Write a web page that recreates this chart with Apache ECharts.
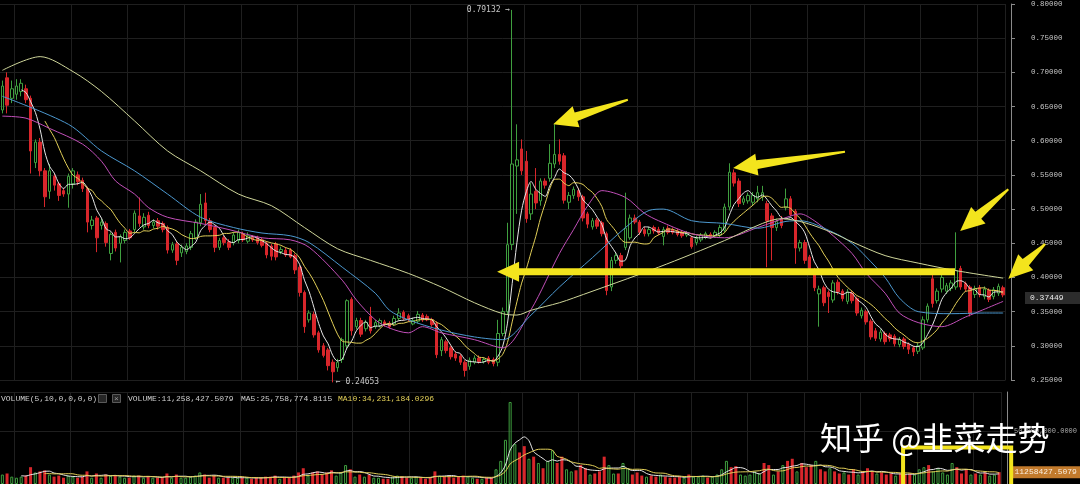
<!DOCTYPE html>
<html>
<head>
<meta charset="utf-8">
<script src="https://cdn.jsdelivr.net/npm/echarts@6/dist/echarts.min.js"></script>
<style>
  html, body { margin: 0; padding: 0; background: #000; }
  #chart { width: 1080px; height: 484px; }
</style>
</head>
<body>
<div id="chart"></div>
<script>
// K-line rows: [open, close, low, high]
const candles = [
  [.645,.680,.640,.688],[.692,.652,.640,.700],[.662,.676,.655,.688],[.668,.680,.660,.690],[.672,.684,.665,.690],
  [.676,.660,.655,.682],[.662,.585,.552,.666],[.568,.598,.560,.602],[.598,.556,.548,.604],[.556,.518,.503,.560],
  [.526,.556,.515,.566],[.548,.535,.527,.552],[.537,.520,.512,.540],[.527,.522,.518,.531],[.522,.548,.502,.552],
  [.537,.556,.530,.560],[.550,.540,.535,.555],[.542,.530,.525,.546],[.530,.481,.466,.533],[.476,.484,.470,.490],
  [.487,.458,.437,.490],[.476,.481,.470,.486],[.479,.451,.445,.482],[.435,.463,.425,.466],[.466,.443,.438,.470],
  [.450,.460,.422,.463],[.454,.466,.450,.470],[.468,.458,.455,.471],[.470,.494,.466,.498],[.490,.479,.474,.517],
  [.474,.488,.470,.494],[.491,.476,.472,.496],[.476,.481,.472,.485],[.483,.475,.470,.487],[.479,.470,.466,.482],
  [.473,.440,.435,.476],[.440,.448,.436,.452],[.449,.425,.418,.452],[.436,.444,.430,.448],[.438,.446,.434,.450],
  [.444,.464,.440,.468],[.458,.481,.455,.485],[.480,.507,.475,.522],[.509,.483,.478,.524],[.483,.470,.466,.487],
  [.473,.444,.437,.476],[.444,.454,.440,.458],[.458,.451,.447,.461],[.452,.444,.440,.456],[.451,.462,.447,.466],
  [.454,.466,.450,.470],[.463,.455,.452,.467],[.453,.461,.450,.466],[.459,.455,.452,.462],[.458,.451,.448,.461],
  [.455,.447,.444,.458],[.450,.433,.428,.453],[.446,.431,.425,.449],[.449,.430,.425,.452],[.438,.441,.434,.445],
  [.440,.433,.430,.444],[.440,.430,.428,.443],[.432,.411,.405,.435],[.415,.378,.372,.418],[.378,.328,.319,.381],
  [.338,.348,.334,.352],[.346,.316,.312,.350],[.319,.294,.290,.322],[.300,.286,.283,.304],[.294,.271,.264,.297],
  [.276,.262,.24653,.280],[.268,.276,.262,.281],[.280,.309,.275,.312],[.300,.366,.296,.368],[.368,.322,.315,.371],
  [.328,.337,.324,.341],[.337,.317,.313,.341],[.325,.334,.321,.338],[.343,.322,.318,.357],[.328,.334,.325,.338],
  [.330,.337,.327,.340],[.335,.331,.328,.338],[.333,.328,.325,.336],[.332,.340,.329,.344],[.340,.348,.337,.355],
  [.349,.340,.337,.352],[.344,.338,.335,.347],[.332,.337,.330,.341],[.336,.346,.333,.351],[.345,.338,.335,.348],
  [.343,.338,.336,.346],[.338,.331,.328,.341],[.333,.287,.282,.336],[.293,.309,.285,.313],[.306,.293,.289,.309],
  [.297,.284,.280,.300],[.288,.282,.278,.291],[.285,.276,.272,.288],[.276,.264,.255,.279],[.270,.279,.265,.283],
  [.276,.282,.273,.286],[.282,.277,.274,.286],[.277,.280,.274,.283],[.282,.276,.273,.285],[.280,.274,.270,.283],
  [.276,.318,.270,.338],[.318,.350,.314,.356],[.350,.448,.345,.480],[.448,.566,.440,.79132],[.563,.572,.493,.624],
  [.588,.556,.550,.602],[.570,.486,.480,.585],[.493,.522,.484,.538],[.526,.509,.500,.560],[.512,.541,.505,.545],
  [.541,.535,.530,.545],[.545,.567,.540,.595],[.566,.580,.560,.624],[.580,.570,.565,.602],[.578,.513,.508,.582],
  [.510,.520,.500,.525],[.520,.529,.515,.533],[.527,.518,.512,.531],[.518,.487,.482,.521],[.493,.478,.472,.496],
  [.474,.483,.470,.487],[.484,.475,.471,.487],[.480,.464,.460,.483],[.464,.381,.374,.467],[.386,.425,.380,.430],
  [.425,.432,.420,.436],[.432,.417,.413,.436],[.444,.472,.440,.524],[.458,.487,.455,.492],[.487,.481,.478,.492],
  [.481,.466,.462,.484],[.470,.464,.460,.474],[.464,.470,.460,.474],[.473,.468,.464,.476],[.470,.465,.462,.474],
  [.460,.470,.447,.474],[.472,.466,.463,.476],[.470,.466,.463,.473],[.468,.463,.460,.471],[.466,.461,.458,.469],
  [.462,.465,.459,.468],[.458,.445,.442,.461],[.451,.457,.447,.461],[.455,.462,.452,.465],[.459,.464,.456,.467],
  [.463,.460,.457,.466],[.461,.466,.458,.469],[.462,.473,.459,.477],[.469,.503,.466,.508],[.503,.554,.498,.567],
  [.553,.538,.533,.558],[.541,.508,.503,.545],[.510,.515,.506,.519],[.512,.520,.508,.524],[.510,.520,.505,.525],
  [.515,.524,.510,.534],[.518,.524,.512,.534],[.508,.483,.415,.512],[.490,.473,.425,.494],[.473,.482,.468,.486],
  [.485,.476,.472,.490],[.502,.515,.498,.530],[.515,.492,.489,.519],[.497,.443,.420,.500],[.443,.451,.438,.455],
  [.451,.425,.420,.455],[.430,.411,.406,.433],[.411,.385,.380,.414],[.376,.383,.328,.388],[.385,.363,.358,.388],
  [.378,.372,.348,.381],[.367,.392,.363,.396],[.393,.379,.375,.397],[.380,.369,.365,.383],[.365,.379,.361,.383],
  [.377,.366,.362,.380],[.369,.348,.344,.372],[.344,.352,.340,.356],[.350,.335,.331,.353],[.336,.313,.309,.339],
  [.322,.311,.307,.326],[.310,.320,.306,.324],[.318,.306,.302,.321],[.316,.310,.306,.319],[.314,.303,.299,.317],
  [.302,.309,.298,.313],[.310,.299,.295,.313],[.302,.295,.288,.305],[.297,.291,.285,.300],[.292,.300,.288,.304],
  [.297,.338,.294,.343],[.338,.358,.334,.362],[.398,.362,.356,.404],[.366,.380,.362,.384],[.383,.400,.378,.405],
  [.380,.388,.376,.392],[.384,.392,.380,.396],[.386,.410,.382,.466],[.413,.386,.382,.417],[.391,.383,.379,.394],
  [.386,.347,.343,.389],[.375,.384,.370,.388],[.385,.375,.371,.389],[.372,.383,.368,.387],[.381,.368,.364,.384],
  [.372,.382,.368,.386],[.377,.387,.373,.391],[.385,.37449,.371,.388]
];

// traded volume per candle
const volumes = [
  9e6,10e6,7e6,6e6,7e6,8e6,16e6,11e6,12e6,13e6,
  9e6,7e6,8e6,6e6,8e6,7e6,6e6,7e6,12e6,6e6,
  10e6,6e6,9e6,8e6,8e6,7e6,6e6,6e6,8e6,8e6,
  6e6,7e6,6e6,6e6,6e6,10e6,6e6,9e6,6e6,6e6,
  7e6,8e6,11e6,9e6,6e6,8e6,6e6,6e6,6e6,6e6,
  6e6,6e6,6e6,5e6,6e6,6e6,7e6,7e6,8e6,5e6,
  6e6,6e6,8e6,11e6,15e6,8e6,11e6,12e6,9e6,11e6,
  13e6,8e6,11e6,18e6,14e6,7e6,9e6,7e6,9e6,6e6,
  6e6,5e6,5e6,7e6,8e6,7e6,6e6,6e6,7e6,6e6,
  5e6,6e6,12e6,8e6,7e6,7e6,6e6,7e6,8e6,7e6,
  6e6,5e6,5e6,6e6,6e6,14e6,22e6,42e6,78e6,38e6,
  30e6,36e6,24e6,26e6,20e6,15e6,22e6,32e6,20e6,26e6,
  14e6,12e6,13e6,18e6,15e6,9e6,10e6,12e6,26e6,18e6,
  10e6,10e6,20e6,15e6,9e6,11e6,8e6,7e6,8e6,7e6,
  9e6,7e6,6e6,6e6,7e6,6e6,9e6,7e6,7e6,8e6,
  6e6,7e6,9e6,14e6,22e6,16e6,17e6,9e6,8e6,9e6,
  12e6,10e6,20e6,18e6,9e6,12e6,18e6,22e6,24e6,12e6,
  20e6,16e6,18e6,22e6,14e6,12e6,15e6,12e6,10e6,11e6,
  9e6,14e6,9e6,12e6,15e6,12e6,10e6,11e6,9e6,10e6,
  8e6,10e6,9e6,10e6,9e6,14e6,16e6,18e6,12e6,15e6,
  11e6,9e6,20e6,16e6,10e6,14e6,9e6,10e6,9e6,11e6,
  8e6,9e6,11258427.5079
];

// longer moving averages, read as [candle index, value] points
const ma20Points = [[0,.636],[5,.633],[10,.618],[17,.595],[21,.570],[24,.541],[28,.522],[31,.502],[35,.488],[42,.479],
  [48,.470],[55,.458],[61,.455],[65,.444],[72,.396],[75,.367],[79,.338],[82,.326],[86,.319],[89,.328],[93,.319],
  [100,.309],[106,.297],[112,.353],[118,.435],[121,.470],[124,.505],[127,.527],[132,.517],[136,.494],[139,.483],
  [146,.464],[153,.458],[160,.473],[167,.490],[169,.493],[172,.483],[176,.461],[180,.435],[183,.406],[187,.377],
  [190,.348],[194,.334],[199,.328],[204,.342],[212,.365]];
const ma30Points = [[0,.665],[14,.624],[21,.585],[28,.556],[35,.522],[42,.488],[49,.473],[55,.465],[61,.461],[65,.451],
  [72,.415],[79,.377],[82,.352],[86,.338],[93,.323],[100,.313],[106,.309],[112,.345],[118,.386],[125,.429],[132,.473],
  [137,.498],[140,.500],[146,.483],[153,.479],[160,.472],[166,.482],[169,.483],[176,.466],[180,.450],[183,.430],
  [187,.400],[190,.370],[194,.350],[201,.347],[208,.348],[212,.348]];
const ma60Points = [[0,.703],[8,.723],[15,.701],[21,.672],[28,.629],[35,.585],[42,.556],[50,.522],[57,.505],[64,.473],
  [71,.442],[78,.425],[86,.406],[93,.386],[100,.363],[106,.347],[109,.345],[112,.352],[118,.363],[121,.370],[139,.415],
  [153,.454],[161,.479],[165,.486],[170,.480],[176,.465],[180,.452],[187,.432],[194,.421],[202,.410],[212,.399]];

// price axis range and step
const priceMin = 0.25, priceMax = 0.80, priceStep = 0.05;
// volume axis range and step
const volumeMax = 87.5e6, volumeStep = 50e6;

// header values of the volume pane
const volumeHeader = 'VOLUME(5,10,0,0,0,0)';
const volMa5Last = 25758774.8115;
const volMa10Last = 34231184.0296;

// annotation arrows: [tail index, tail price], [tip index, tip price]
const arrowNotes = [
  { tail: [201.8, 0.4085], tip: [104.8, 0.4085], flat: true },
  { tail: [132.5, 0.660], tip: [116.7, 0.624] },
  { tail: [178.5, 0.584], tip: [154.8, 0.560] },
  { tail: [213.1, 0.529], tip: [202.9, 0.468] },
  { tail: [220.9, 0.449], tip: [213.1, 0.398] }
];
// highlighted box in the volume pane: index span and volume span
const volumeBox = { from: 190.8, to: 213.7, top: 34.8e6, bottom: -12e6 };

const watermark = '知乎 @韭菜走势';

const MONO = '"Liberation Mono", "DejaVu Sans Mono", monospace';
const UP = '#3f9f3f', DOWN = '#d8262b', GRID = '#1f1f1f', YELLOW = '#f3e41d';

function movingAverage(values, n) {
  return values.map((_, i) => {
    if (i < n - 1) return '-';
    let s = 0;
    for (let k = i - n + 1; k <= i; k++) s += values[k];
    return s / n;
  });
}
function withThousands(v) {
  const parts = v.toFixed(4).split('.');
  return parts[0].replace(/\B(?=(\d{3})+(?!\d))/g, ',') + '.' + parts[1];
}

const categories = candles.map((_, i) => String(i + 1));
const closes = candles.map(c => c[1]);
const ma5 = movingAverage(closes, 5);
const ma10 = movingAverage(closes, 10);
const volMa5 = movingAverage(volumes, 5);
const volMa10 = movingAverage(volumes, 10);
const lastClose = closes[closes.length - 1];
const lastVolume = volumes[volumes.length - 1];

let hiIdx = 0, loIdx = 0;
candles.forEach((c, i) => {
  if (c[3] > candles[hiIdx][3]) hiIdx = i;
  if (c[2] < candles[loIdx][2]) loIdx = i;
});

const volumeBars = volumes.map((v, i) => ({
  value: v,
  itemStyle: candles[i][1] >= candles[i][0]
    ? { color: 'rgba(0,0,0,0)', borderColor: UP, borderWidth: 1 }
    : { color: DOWN, borderColor: DOWN, borderWidth: 0 }
}));

const vSplit = (i) => (i - 3) % 12 === 0;

function maLine(name, data, color, xi, yi) {
  return {
    name, type: 'line', data, xAxisIndex: xi, yAxisIndex: yi,
    showSymbol: false, smooth: 0.3, silent: true,
    lineStyle: { color, width: 1 }, z: 3
  };
}

const chart = echarts.init(document.getElementById('chart'));

chart.setOption({
  backgroundColor: '#000',
  animation: false,
  grid: [
    { left: 0, right: 74.5, top: 1.7, bottom: 104 },
    { left: 0, right: 74.5, top: 392, bottom: -6 }
  ],
  xAxis: [
    { type: 'category', data: categories, gridIndex: 0, boundaryGap: true,
      axisLine: { show: false }, axisTick: { show: false }, axisLabel: { show: false },
      splitLine: { show: true, interval: vSplit, lineStyle: { color: GRID } } },
    { type: 'category', data: categories, gridIndex: 1, boundaryGap: true, position: 'top',
      axisLine: { show: true, lineStyle: { color: '#4a4a4a' } }, axisTick: { show: false }, axisLabel: { show: false },
      splitLine: { show: true, interval: vSplit, lineStyle: { color: GRID } } }
  ],
  yAxis: [
    { type: 'value', gridIndex: 0, position: 'right', offset: 5.5,
      min: priceMin, max: priceMax, interval: priceStep,
      axisLine: { show: true, lineStyle: { color: '#8a8a8a' } },
      axisTick: { show: true, length: 4, lineStyle: { color: '#8a8a8a' } },
      axisLabel: { color: '#c4c4c4', fontSize: 7.5, fontFamily: MONO, margin: 20, formatter: v => v.toFixed(5) },
      splitLine: { show: true, lineStyle: { color: GRID } } },
    { type: 'value', gridIndex: 1, position: 'right', offset: 5.5,
      min: 0, max: volumeMax, interval: volumeStep,
      axisLine: { show: true, lineStyle: { color: '#8a8a8a' } },
      axisTick: { show: false },
      axisLabel: { color: '#a8a8a8', fontSize: 7, fontFamily: MONO, margin: 7,
        showMinLabel: false, showMaxLabel: false, formatter: v => withThousands(v) },
      splitLine: { show: true, lineStyle: { color: GRID } } }
  ],
  series: [
    {
      name: 'K', type: 'candlestick', data: candles, xAxisIndex: 0, yAxisIndex: 0,
      barWidth: 3, clip: false, z: 2,
      itemStyle: { color: 'rgba(0,0,0,0)', color0: DOWN, borderColor: UP, borderColor0: DOWN, borderWidth: 1 },
      markLine: {
        silent: true, symbol: ['none', 'none'], lineStyle: { color: 'rgba(0,0,0,0)', width: 0 },
        label: { show: true, position: 'end', distance: 19.5, color: '#ececec', fontSize: 8, fontFamily: MONO,
          backgroundColor: '#2c2c2c', padding: [2, 20, 2, 5], formatter: () => lastClose.toFixed(5) },
        data: [{ yAxis: lastClose }]
      }
    },
    maLine('MA5', ma5, '#e6e6e6', 0, 0),
    maLine('MA10', ma10, '#e2cf58', 0, 0),
    maLine('MA20', ma20Points, '#c24fb9', 0, 0),
    maLine('MA30', ma30Points, '#4c98cf', 0, 0),
    maLine('MA60', ma60Points, '#cfd69a', 0, 0),
    {
      name: 'VOLUME', type: 'bar', data: volumeBars, xAxisIndex: 1, yAxisIndex: 1,
      barWidth: 3, clip: false,
      markLine: {
        silent: true, symbol: ['none', 'none'], lineStyle: { color: 'rgba(0,0,0,0)', width: 0 },
        label: { show: true, position: 'end', distance: 10, color: '#fbeede', fontSize: 8, fontFamily: MONO,
          backgroundColor: '#c27a2c', padding: [2, 12, 2, 3], formatter: () => lastVolume.toFixed(4) },
        data: [{ yAxis: lastVolume }]
      }
    },
    maLine('VOL MA5', volMa5, '#e6e6e6', 1, 1),
    maLine('VOL MA10', volMa10, '#e2cf58', 1, 1)
  ]
});

// overlay: extreme-price tags, pane header, arrows, highlight box, watermark
const px0 = chart.convertToPixel({ xAxisIndex: 0 }, 0);
const px1 = chart.convertToPixel({ xAxisIndex: 0 }, 1);
const xAt = i => px0 + (px1 - px0) * i;
const yPrice = v => chart.convertToPixel({ yAxisIndex: 0 }, v);
const yVolume = v => chart.convertToPixel({ yAxisIndex: 1 }, v);

function arrowPoints(tail, tip, tailHalf, neckHalf, headHalf, headLen) {
  const dx = tip[0] - tail[0], dy = tip[1] - tail[1];
  const len = Math.hypot(dx, dy);
  const ux = dx / len, uy = dy / len, nx = -uy, ny = ux;
  const bx = tip[0] - ux * headLen, by = tip[1] - uy * headLen;
  return [
    [tail[0] + nx * tailHalf, tail[1] + ny * tailHalf],
    [bx + nx * neckHalf, by + ny * neckHalf],
    [bx + nx * headHalf, by + ny * headHalf],
    [tip[0], tip[1]],
    [bx - nx * headHalf, by - ny * headHalf],
    [bx - nx * neckHalf, by - ny * neckHalf],
    [tail[0] - nx * tailHalf, tail[1] - ny * tailHalf]
  ];
}

const headerY = 398.5;
const headerFont = '8px ' + MONO;
const tagFont = '8px "DejaVu Sans Mono", monospace';
const graphics = [
  { type: 'text', x: xAt(hiIdx) - 2, y: yPrice(candles[hiIdx][3]), z: 50,
    style: { text: candles[hiIdx][3].toFixed(5) + ' \u2192', fill: '#c8c8c8', font: tagFont, align: 'right', verticalAlign: 'middle' } },
  { type: 'text', x: xAt(loIdx) + 3, y: yPrice(candles[loIdx][2]), z: 50,
    style: { text: '\u2190 ' + candles[loIdx][2].toFixed(5), fill: '#c8c8c8', font: tagFont, align: 'left', verticalAlign: 'middle' } },
  { type: 'text', x: 1, y: headerY, z: 50, style: { text: volumeHeader, fill: '#cfcfcf', font: headerFont, verticalAlign: 'middle' } },
  { type: 'rect', shape: { x: 98.5, y: 394.5, width: 8, height: 8 }, z: 50, style: { fill: '#262626', stroke: '#5a5a5a', lineWidth: 1 } },
  { type: 'rect', shape: { x: 112.5, y: 394.5, width: 8, height: 8 }, z: 50, style: { fill: '#262626', stroke: '#5a5a5a', lineWidth: 1 } },
  { type: 'text', x: 116.5, y: headerY, z: 51, style: { text: '\u00d7', fill: '#9a9a9a', font: headerFont, align: 'center', verticalAlign: 'middle' } },
  { type: 'text', x: 128, y: headerY, z: 50, style: { text: 'VOLUME:' + withThousands(lastVolume), fill: '#cfcfcf', font: headerFont, verticalAlign: 'middle' } },
  { type: 'text', x: 241, y: headerY, z: 50, style: { text: 'MA5:' + withThousands(volMa5Last), fill: '#cfcfcf', font: headerFont, verticalAlign: 'middle' } },
  { type: 'text', x: 338, y: headerY, z: 50, style: { text: 'MA10:' + withThousands(volMa10Last), fill: '#e2cf58', font: headerFont, verticalAlign: 'middle' } }
];

arrowNotes.forEach(a => {
  const tail = [xAt(a.tail[0]), yPrice(a.tail[1])];
  const tip = [xAt(a.tip[0]), yPrice(a.tip[1])];
  const pts = a.flat
    ? arrowPoints(tail, tip, 3.5, 3.5, 10, 22)
    : arrowPoints(tail, tip, 1, 4.5, 11, 24);
  graphics.push({ type: 'polygon', z: 60, shape: { points: pts }, style: { fill: YELLOW } });
});

const bx0 = xAt(volumeBox.from), bx1 = xAt(volumeBox.to);
const by0 = yVolume(volumeBox.top), by1 = yVolume(volumeBox.bottom);
graphics.push({ type: 'rect', z: 60, shape: { x: bx0, y: by0, width: bx1 - bx0, height: by1 - by0 },
  style: { fill: 'none', stroke: YELLOW, lineWidth: 4 } });

graphics.push({ type: 'text', x: 820, y: 438, z: 70,
  style: { text: watermark, fill: '#ffffff', font: '32px "Noto Sans CJK SC", sans-serif', verticalAlign: 'middle',
    shadowBlur: 3, shadowColor: 'rgba(0,0,0,0.6)' } });

chart.setOption({ graphic: graphics });
</script>
</body>
</html>
